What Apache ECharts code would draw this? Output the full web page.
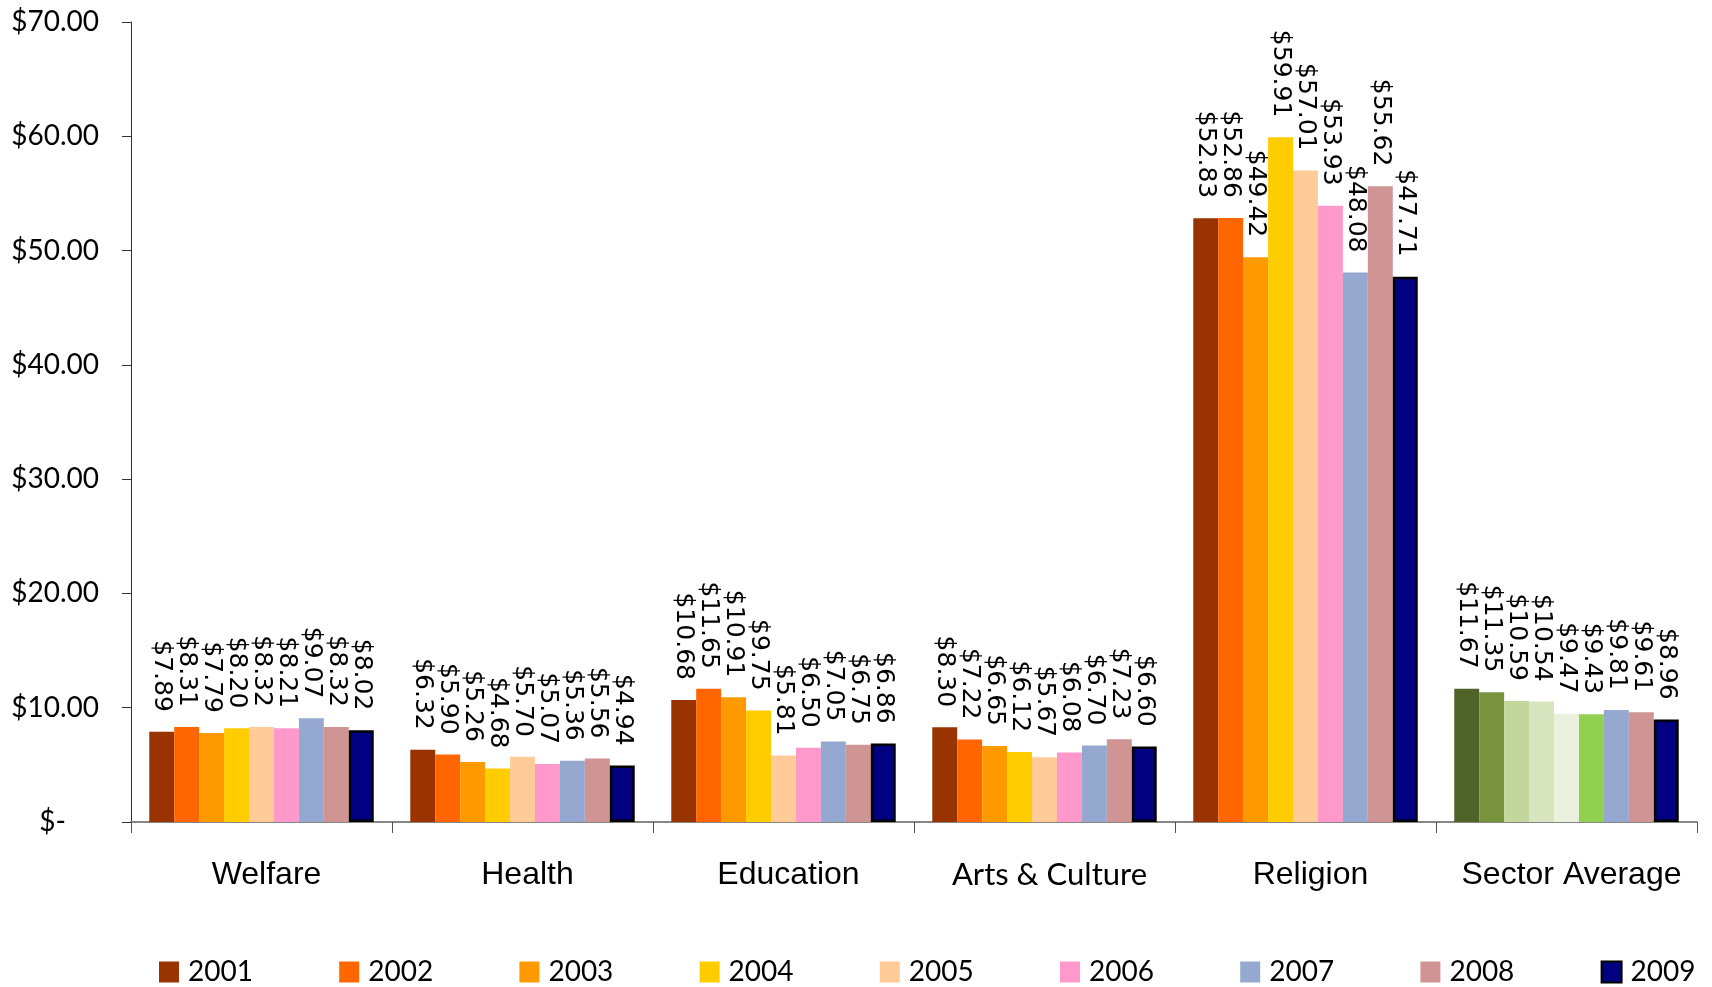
<!DOCTYPE html>
<html>
<head>
<meta charset="utf-8">
<title>Average gift by sector, 2001–2009</title>
<script src="https://cdn.jsdelivr.net/npm/echarts@6/dist/echarts.min.js"></script>
<style>
  html, body { margin: 0; padding: 0; background: #ffffff; }
  #chart { width: 1712px; height: 987px; }
</style>
</head>
<body>
<div id="chart"></div>
<script>
// Sectors along the x axis
const categories = ['Welfare', 'Health', 'Education', 'Arts & Culture', 'Religion', 'Sector Average'];

// Survey years (one series each)
const years = ['2001', '2002', '2003', '2004', '2005', '2006', '2007', '2008', '2009'];

// Average amount per sector, one array per year (dollars)
const v2001 = [7.89, 6.32, 10.68, 8.30, 52.83, 11.67];
const v2002 = [8.31, 5.90, 11.65, 7.22, 52.86, 11.35];
const v2003 = [7.79, 5.26, 10.91, 6.65, 49.42, 10.59];
const v2004 = [8.20, 4.68, 9.75, 6.12, 59.91, 10.54];
const v2005 = [8.32, 5.70, 5.81, 5.67, 57.01, 9.47];
const v2006 = [8.21, 5.07, 6.50, 6.08, 53.93, 9.43];
const v2007 = [9.07, 5.36, 7.05, 6.70, 48.08, 9.81];
const v2008 = [8.32, 5.56, 6.75, 7.23, 55.62, 9.61];
const v2009 = [8.02, 4.94, 6.86, 6.60, 47.71, 8.96];

// Y axis ticks
const yTicks = [0, 10, 20, 30, 40, 50, 60, 70];

const seriesValues = [v2001, v2002, v2003, v2004, v2005, v2006, v2007, v2008, v2009];

const yearColors = ['#993300', '#FF6600', '#FF9900', '#FFCC00', '#FFCC99', '#FF99CC', '#95A9D0', '#D09494', '#000080'];
// The "Sector Average" group uses a green palette for 2001–2006
const averageColors = ['#4F6228', '#77933C', '#C3D69B', '#D7E4BD', '#EBF1DE', '#92D050'];

const avgIndex = categories.indexOf('Sector Average');

const labelFont = '"DejaVu Sans", Verdana, sans-serif';

const series = years.map((year, i) => {
  const isLast = i === years.length - 1;
  const data = seriesValues[i].map((v, c) => {
    if (c === avgIndex && averageColors[i]) {
      return { value: v, itemStyle: { color: averageColors[i] } };
    }
    return v;
  });
  return {
    name: year,
    type: 'bar',
    data: data,
    barGap: '0%',
    barCategoryGap: '14%',
    itemStyle: isLast
      ? { color: yearColors[i], borderColor: '#000000', borderWidth: 2.5 }
      : { color: yearColors[i] },
    label: {
      show: true,
      position: 'top',
      distance: 20,
      rotate: -90,
      align: 'right',
      verticalAlign: 'middle',
      fontFamily: labelFont,
      fontSize: 25,
      color: '#000000',
      formatter: p => '$' + Number(p.value).toFixed(2)
    },
    emphasis: { disabled: true }
  };
});

// One legend block per year, laid out in a single row
const legendLeft0 = 159;
const legendStep = 180.2;
const legends = years.map((year, i) => ({
  data: [year],
  left: legendLeft0 + i * legendStep,
  top: 958,
  padding: 0,
  orient: 'horizontal',
  icon: 'rect',
  itemWidth: 20,
  itemHeight: 21,
  selectedMode: false,
  textStyle: {
    fontFamily: 'Lato',
    fontSize: 28,
    color: '#000000',
    padding: [0, 0, 0, 4]
  }
}));

const chart = echarts.init(document.getElementById('chart'), null, { renderer: 'canvas' });

chart.setOption({
  animation: false,
  backgroundColor: '#ffffff',
  legend: legends,
  grid: {
    left: 131,
    right: 15,
    top: 22,
    bottom: 165,
    containLabel: false
  },
  xAxis: {
    type: 'category',
    data: categories,
    axisLine: { show: true, lineStyle: { color: '#868686', width: 2 } },
    axisTick: { show: true, interval: 0, alignWithLabel: false, length: 11, lineStyle: { color: '#555555', width: 1 } },
    axisLabel: {
      interval: 0,
      margin: 37,
      padding: [0, 0, 0, 10],
      fontFamily: 'Liberation Sans',
      fontSize: 32,
      color: '#000000',
      formatter: v => v === 'Arts & Culture' ? '{c|' + v + '}' : v,
      rich: {
        c: { fontFamily: 'Lato', fontSize: 31, color: '#000000' }
      }
    },
    splitLine: { show: false }
  },
  yAxis: {
    type: 'value',
    min: yTicks[0],
    max: yTicks[yTicks.length - 1],
    interval: yTicks[1] - yTicks[0],
    axisLine: { show: true, lineStyle: { color: '#333333', width: 1 } },
    axisTick: { show: true, inside: false, length: 9, lineStyle: { color: '#333333', width: 1 } },
    splitLine: { show: false },
    axisLabel: {
      margin: 32,
      fontFamily: 'Lato',
      fontSize: 28,
      color: '#000000',
      formatter: v => v === 0 ? '{z|$-}' : '$' + v.toFixed(2),
      rich: {
        z: { fontFamily: 'Lato', fontSize: 28, color: '#000000', padding: [0, 33, 0, 0] }
      }
    }
  },
  series: series
});
</script>
</body>
</html>
